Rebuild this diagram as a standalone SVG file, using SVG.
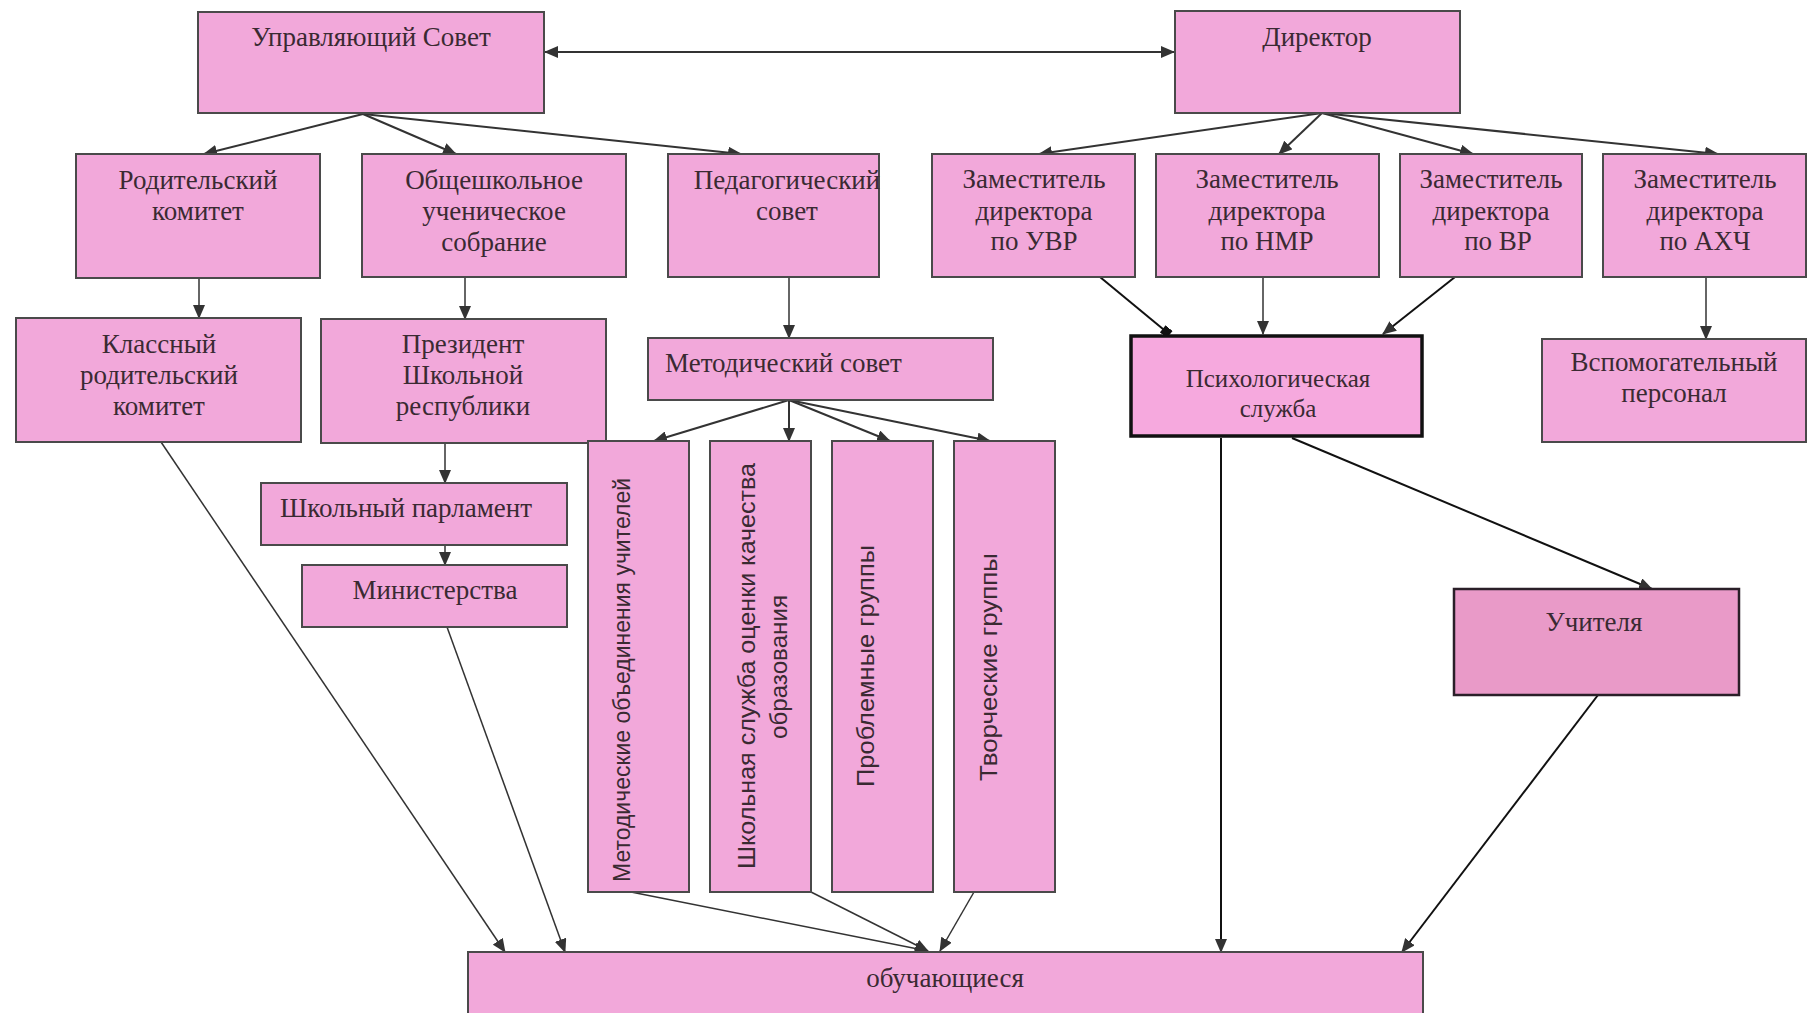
<svg xmlns="http://www.w3.org/2000/svg" width="1807" height="1013" viewBox="0 0 1807 1013">
<defs>
<marker id="ah" viewBox="0 0 14 12" refX="13" refY="6" markerWidth="14" markerHeight="12" markerUnits="userSpaceOnUse" orient="auto-start-reverse">
<path d="M0,0 L14,6 L0,12 z" fill="#333"/>
</marker>
<marker id="sq" viewBox="0 0 10 10" refX="9" refY="5" markerWidth="10" markerHeight="9" markerUnits="userSpaceOnUse" orient="auto">
<rect x="0" y="0" width="10" height="10" fill="#111"/>
</marker>
<style>
.box{fill:#f2a8da;stroke:#4a4a4a;stroke-width:2}
.dark{fill:#e99ac8;stroke:#2a1f28;stroke-width:2.5}
.psy{fill:#f6a9de;stroke:#111;stroke-width:3.5}
.t{font-family:"Liberation Serif","Times New Roman",serif;font-size:27px;fill:#3a2a32;text-anchor:middle}
.v{font-family:"Liberation Sans",Arial,sans-serif;font-size:24px;fill:#3a2a32;text-anchor:middle}
.c{stroke:#333;stroke-width:2;fill:none}
.cb{stroke:#111;stroke-width:2;fill:none}
.ct{stroke:#333;stroke-width:1.5;fill:none}
</style>
</defs>
<rect width="1807" height="1013" fill="#ffffff"/>

<g id="connectors">
<line class="c" x1="545" y1="52" x2="1174" y2="52" marker-start="url(#ah)" marker-end="url(#ah)"/>
<line class="c" x1="363" y1="114" x2="204" y2="154" marker-end="url(#ah)"/>
<line class="c" x1="363" y1="114" x2="456" y2="154" marker-end="url(#ah)"/>
<line class="c" x1="363" y1="114" x2="741" y2="154" marker-end="url(#ah)"/>
<line class="c" x1="1322" y1="113" x2="1039" y2="154" marker-end="url(#ah)"/>
<line class="c" x1="1322" y1="113" x2="1279" y2="154" marker-end="url(#ah)"/>
<line class="c" x1="1322" y1="113" x2="1473" y2="154" marker-end="url(#ah)"/>
<line class="c" x1="1322" y1="113" x2="1718" y2="154" marker-end="url(#ah)"/>
<line class="ct" x1="199" y1="278" x2="199" y2="318" marker-end="url(#ah)"/>
<line class="ct" x1="465" y1="277" x2="465" y2="319" marker-end="url(#ah)"/>
<line class="ct" x1="789" y1="277" x2="789" y2="338" marker-end="url(#ah)"/>
<line class="c" x1="789" y1="400" x2="654" y2="441" marker-end="url(#ah)"/>
<line class="c" x1="789" y1="400" x2="789" y2="441" marker-end="url(#ah)"/>
<line class="c" x1="789" y1="400" x2="890" y2="441" marker-end="url(#ah)"/>
<line class="c" x1="789" y1="400" x2="990" y2="441" marker-end="url(#ah)"/>
<line class="ct" x1="445" y1="443" x2="445" y2="483" marker-end="url(#ah)"/>
<line class="ct" x1="445" y1="545" x2="445" y2="565" marker-end="url(#ah)"/>
<line class="ct" x1="161" y1="442" x2="505" y2="952" marker-end="url(#ah)"/>
<line class="ct" x1="447" y1="627" x2="565" y2="952" marker-end="url(#ah)"/>
<line class="ct" x1="631" y1="892" x2="928" y2="951" marker-end="url(#ah)"/>
<line class="ct" x1="811" y1="892" x2="928" y2="951" marker-end="url(#ah)"/>
<line class="ct" x1="974" y1="892" x2="940" y2="951" marker-end="url(#ah)"/>
<line class="cb" x1="1100" y1="277" x2="1169" y2="334" marker-end="url(#sq)"/>
<line class="ct" x1="1263" y1="277" x2="1263" y2="334" marker-end="url(#ah)"/>
<line class="cb" x1="1455" y1="277" x2="1383" y2="334" marker-end="url(#ah)"/>
<line class="ct" x1="1706" y1="277" x2="1706" y2="339" marker-end="url(#ah)"/>
<line class="cb" x1="1221" y1="438" x2="1221" y2="952" marker-end="url(#ah)"/>
<line class="cb" x1="1292" y1="438" x2="1652" y2="589" marker-end="url(#ah)"/>
<line class="cb" x1="1598" y1="695" x2="1402" y2="952" marker-end="url(#ah)"/>
</g>

<g id="upravl-sovet"><rect class="box" x="198" y="12" width="346" height="101"/><text class="t" x="371" y="46">Управляющий Совет</text></g>
<g id="direktor"><rect class="box" x="1175" y="11" width="285" height="102"/><text class="t" x="1317" y="46">Директор</text></g>

<g id="rod-komitet"><rect class="box" x="76" y="154" width="244" height="124"/><text class="t" x="198" y="189">Родительский</text><text class="t" x="198" y="220">комитет</text></g>
<g id="obsh-sobranie"><rect class="box" x="362" y="154" width="264" height="123"/><text class="t" x="494" y="189">Общешкольное</text><text class="t" x="494" y="220">ученическое</text><text class="t" x="494" y="251">собрание</text></g>
<g id="ped-sovet"><rect class="box" x="668" y="154" width="211" height="123"/><text class="t" x="787" y="189">Педагогический</text><text class="t" x="787" y="220">совет</text></g>

<g id="zam-uvr"><rect class="box" x="932" y="154" width="203" height="123"/><text class="t" x="1034" y="188">Заместитель</text><text class="t" x="1034" y="220">директора</text><text class="t" x="1034" y="250">по УВР</text></g>
<g id="zam-nmr"><rect class="box" x="1156" y="154" width="223" height="123"/><text class="t" x="1267" y="188">Заместитель</text><text class="t" x="1267" y="220">директора</text><text class="t" x="1267" y="250">по НМР</text></g>
<g id="zam-vr"><rect class="box" x="1400" y="154" width="182" height="123"/><text class="t" x="1491" y="188">Заместитель</text><text class="t" x="1491" y="220">директора</text><text class="t" x="1498" y="250">по ВР</text></g>
<g id="zam-ahch"><rect class="box" x="1603" y="154" width="203" height="123"/><text class="t" x="1705" y="188">Заместитель</text><text class="t" x="1705" y="220">директора</text><text class="t" x="1705" y="250">по АХЧ</text></g>

<g id="klass-komitet"><rect class="box" x="16" y="318" width="285" height="124"/><text class="t" x="159" y="353">Классный</text><text class="t" x="159" y="384">родительский</text><text class="t" x="159" y="415">комитет</text></g>
<g id="prezident"><rect class="box" x="321" y="319" width="285" height="124"/><text class="t" x="463" y="353">Президент</text><text class="t" x="463" y="384">Школьной</text><text class="t" x="463" y="415">республики</text></g>
<g id="metod-sovet"><rect class="box" x="648" y="338" width="345" height="62"/><text class="t" x="665" y="372" style="text-anchor:start">Методический совет</text></g>

<g id="shk-parlament"><rect class="box" x="261" y="483" width="306" height="62"/><text class="t" x="406" y="517">Школьный парламент</text></g>
<g id="ministerstva"><rect class="box" x="302" y="565" width="265" height="62"/><text class="t" x="435" y="599">Министерства</text></g>

<g id="metod-obed"><rect class="box" x="588" y="441" width="101" height="451"/><text class="v" transform="translate(630,680) rotate(-90)" textLength="404" lengthAdjust="spacingAndGlyphs">Методические объединения учителей</text></g>
<g id="shk-sluzhba"><rect class="box" x="710" y="441" width="101" height="451"/><text class="v" transform="translate(755,666) rotate(-90)" textLength="406" lengthAdjust="spacingAndGlyphs">Школьная служба оценки качества</text><text class="v" transform="translate(787,667) rotate(-90)" textLength="144" lengthAdjust="spacingAndGlyphs">образования</text></g>
<g id="probl-gruppy"><rect class="box" x="832" y="441" width="101" height="451"/><text class="v" transform="translate(874,666) rotate(-90)" textLength="242" lengthAdjust="spacingAndGlyphs">Проблемные группы</text></g>
<g id="tvorch-gruppy"><rect class="box" x="954" y="441" width="101" height="451"/><text class="v" transform="translate(997,667) rotate(-90)" textLength="228" lengthAdjust="spacingAndGlyphs">Творческие группы</text></g>

<g id="psih-sluzhba"><rect class="psy" x="1131" y="336" width="291" height="100"/><text class="t" x="1278" y="387" style="font-size:25px">Психологическая</text><text class="t" x="1278" y="417" style="font-size:25px">служба</text></g>
<g id="vspom-personal"><rect class="box" x="1542" y="339" width="264" height="103"/><text class="t" x="1674" y="371">Вспомогательный</text><text class="t" x="1674" y="402">персонал</text></g>
<g id="uchitelya"><rect class="dark" x="1454" y="589" width="285" height="106"/><text class="t" x="1594" y="631">Учителя</text></g>

<g id="obuchayuschiesya"><rect class="box" x="468" y="952" width="955" height="70"/><text class="t" x="945" y="987">обучающиеся</text></g>
</svg>
